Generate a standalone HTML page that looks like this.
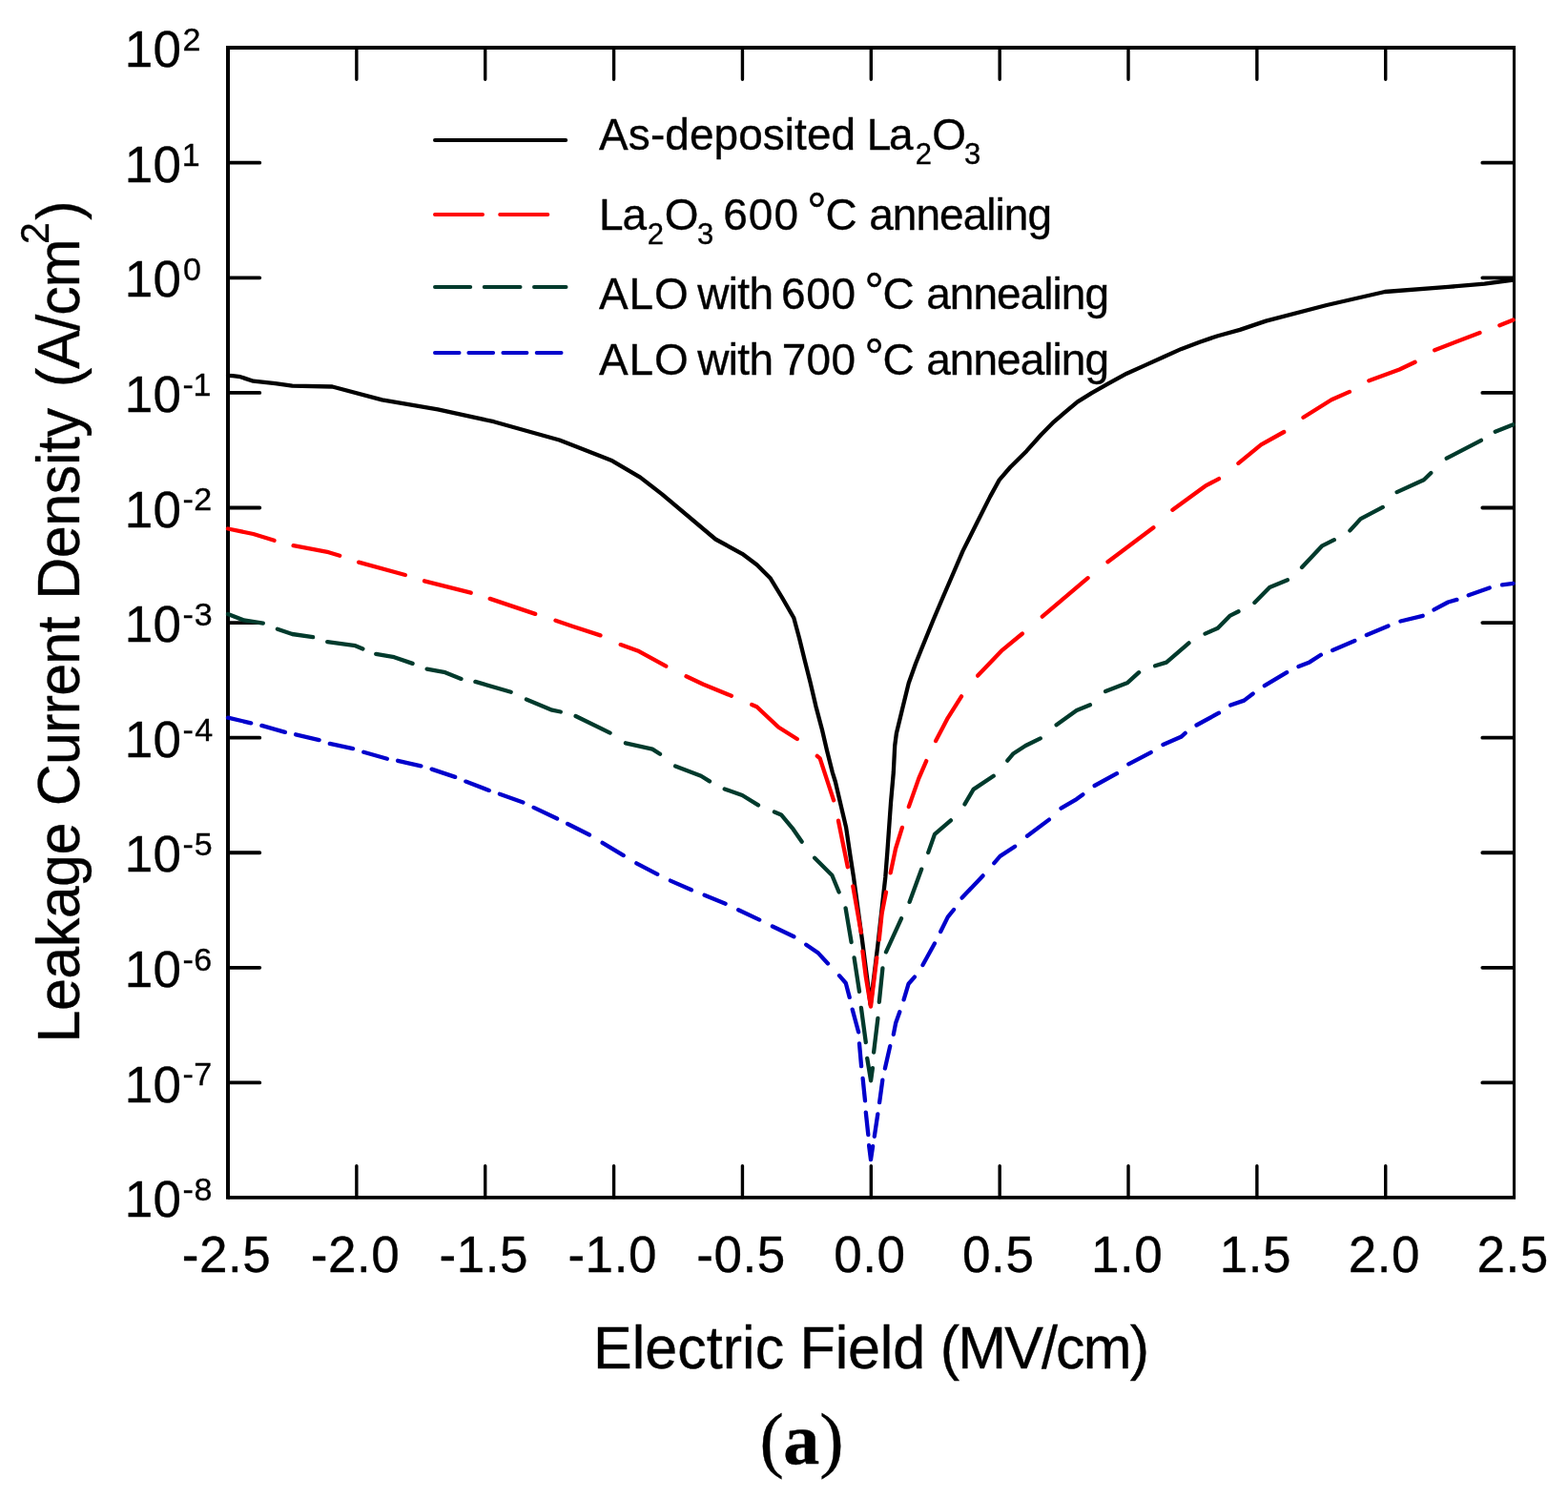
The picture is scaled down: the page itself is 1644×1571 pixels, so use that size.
<!DOCTYPE html>
<html lang="en"><head><meta charset="utf-8"><title>Leakage current density vs electric field</title>
<style>html,body{margin:0;padding:0;background:#fff}body{width:1644px;height:1571px;overflow:hidden}svg{display:block}text{font-family:"Liberation Sans",Arial,Helvetica,sans-serif;fill:#000;stroke:#000;stroke-width:0.35;font-kerning:none;white-space:pre}.ser{font-family:"Liberation Serif","Times New Roman",serif}</style></head><body>
<svg width="1644" height="1571" viewBox="0 0 1644 1571">
<rect width="1644" height="1571" fill="#fff"/>
<g stroke="#000" stroke-linecap="round" fill="none">
<path stroke-width="3.8" d="M239 170.7 H272.3 M1586.5 170.7 H1554.3 M239 291.29 H272.3 M1586.5 291.29 H1554.3 M239 411.88 H272.3 M1586.5 411.88 H1554.3 M239 532.48 H272.3 M1586.5 532.48 H1554.3 M239 653.08 H272.3 M1586.5 653.08 H1554.3 M239 773.67 H272.3 M1586.5 773.67 H1554.3 M239 894.26 H272.3 M1586.5 894.26 H1554.3 M239 1014.86 H272.3 M1586.5 1014.86 H1554.3 M239 1135.46 H272.3 M1586.5 1135.46 H1554.3"/>
<path stroke-width="3.4" d="M373.86 49.95 V83.25 M373.86 1255.9 V1222.6 M508.72 49.95 V83.25 M508.72 1255.9 V1222.6 M643.58 49.95 V83.25 M643.58 1255.9 V1222.6 M778.44 49.95 V83.25 M778.44 1255.9 V1222.6 M913.3 49.95 V83.25 M913.3 1255.9 V1222.6 M1048.16 49.95 V83.25 M1048.16 1255.9 V1222.6 M1183.02 49.95 V83.25 M1183.02 1255.9 V1222.6 M1317.88 49.95 V83.25 M1317.88 1255.9 V1222.6 M1452.74 49.95 V83.25 M1452.74 1255.9 V1222.6"/>
</g>
<path fill="none" stroke="#000" stroke-width="4.0" stroke-linejoin="miter" d="M239 1257.85 V49.95 H1589.05"/>
<path fill="none" stroke="#000" stroke-width="3.9" d="M239 1255.9 H1589.05"/>
<path fill="none" stroke="#000" stroke-width="3.1" d="M1587.5 49.95 V1255.9"/>
<g fill="none" stroke-width="4.3" stroke-linejoin="round" stroke-linecap="round">
<path stroke="#000000" d="M239 393.8 L244 394.2 L252 395.2 L265.6 399.7 L288.6 402.2 L306.4 404.7 L348.4 405.5 L400.6 419.3 L459 429.4 L517.7 442.2 L586.5 461.5 L600 466.7 L630 478.6 L642 483.3 L671.3 500.6 L694.2 518.4 L750.2 565.5 L778.2 580.8 L793.5 592.2 L807.5 606.2 L819.9 626.5 L832.3 648 L838.1 669.5 L843.8 692.7 L849.6 715.8 L855.4 740.6 L862 765.5 L867 787 L872.8 810.1 L875.9 820 L881.5 843.9 L887.1 867.7 L891.8 899.6 L895 920 L904.1 986.9 L912.7 1053.7 L920.3 991.6 L928.3 920 L930.4 892.8 L934 841.9 L936.8 810 L938.2 782 L939.9 769 L945.6 745.6 L952.7 716.5 L960 696 L965.8 681.5 L978.6 650 L987.5 629 L1000 600 L1009.5 577.9 L1024.8 547.3 L1038.2 520.6 L1047.7 503.4 L1059.2 490 L1076.4 472.9 L1091.7 455.7 L1105 442.3 L1118.4 430.9 L1129.8 421.3 L1145.1 411.8 L1162.3 402.2 L1181.4 391.7 L1200.5 383.1 L1219.6 374.5 L1238.7 365.9 L1257.8 358.7 L1276.9 352.2 L1300 345.9 L1327.3 336.6 L1391 320 L1452 306 L1518.3 300.9 L1556.5 297.6 L1586.6 293.5"/>
<path stroke="#ff0000" d="M239 554.5 L265.6 560 L287.5 566.8 M307.6 572.2 L344.6 579.2 L356.2 582.7 M376.1 589.6 L424.9 603 M445 609.3 L493.7 621.7 M513.7 627.9 L561.2 643.9 M582.5 650.8 L600 656.7 L629.5 666.4 M650.7 676.1 L670 683.1 L698.3 698.6 M719.5 709.3 L737.5 717.8 L766.9 729.8 M788.2 739 L793.5 741.2 L816.4 762.8 L835.8 775 M856.8 792.9 L859.7 795.3 L874.1 839.3 M879 860.7 L888.8 909.2 M894.3 929.4 L902.8 978 M904.4 997.6 L907.9 1025 L913 1055.6 L919.3 1004.3 M921.7 985.7 L924.6 958.2 L929 935.5 M933.7 915.4 L939 890.2 L945.9 867.9 M952.8 846.1 L963.3 816.4 L971.2 798.1 M981.1 777.1 L993.8 752.8 L1008 730.3 M1025.2 708.6 L1049.9 682.7 L1071.9 664.5 M1092.8 646.6 L1140.6 606.2 M1161.5 589.2 L1209.4 553.3 M1229.4 534.8 L1263.7 509.7 L1278 502.1 M1298.4 485.8 L1322.2 466.4 L1346.2 453 M1366.5 437.8 L1396 419.3 L1414.9 410.9 M1435.3 399.3 L1467.3 387.5 L1483.6 379.8 M1504.1 367.2 L1551.5 348.9 M1572.3 341.3 L1586.6 335.5"/>
<path stroke="#003a2c" d="M239 644 L255.5 650.4 L275.8 653.6 M290.9 659.8 L306.4 665 L328.1 668.1 M343.2 673.1 L372.6 677.2 L380.4 680.5 M394.2 685.8 L413.3 689.2 L432.6 695.9 M447.6 701.6 L466.8 705.2 L483.5 711.9 M498.4 714.9 L535.7 725.7 M551.9 733.6 L578.8 744.7 L587.8 746.5 M603.6 751 L639.6 768.6 M655.9 779.3 L684 785.6 L692 790.8 M708.1 803.4 L735 813.7 L744 819.4 M759.7 827.5 L778.2 834 L795 844.4 M811.9 851.5 L819 854.4 L831.7 869.7 L840.7 882.7 M854.1 899.8 L872.4 918 L879.6 935.5 M886.6 952.3 L892.6 988.1 M895.6 1004.5 L901 1039.8 M902.9 1056.8 L907.8 1093.1 M909.2 1109.8 L913.1 1133.3 L914.9 1120.2 M916.1 1103.6 L920.4 1067.9 M921.8 1050.8 L925.4 1015.5 M929 998.4 L945 963.3 M953.6 945.9 L966.2 911.6 M973.2 894.1 L980 874.9 L996.9 860.4 M1011.5 843.4 L1020.6 827.9 L1041.7 813.8 M1056.3 797.7 L1062.6 790.2 L1075.3 782 L1090.8 774.4 M1107.6 760.2 L1128.8 745.1 L1142.9 739.3 M1159.1 725.1 L1182.3 715.9 L1194.1 705.2 M1211.1 698.3 L1223 694.6 L1246.5 674.4 M1263.5 664.6 L1276.8 658.8 L1289.8 645.6 L1298.5 641.3 M1315.4 631.9 L1331.1 616 L1349.9 608.3 M1365 595 L1385.9 572.7 L1398.8 566.2 M1415.4 556.4 L1426.6 544.1 L1449.8 531.9 M1464.6 516.1 L1492.8 503.3 L1500.3 496 M1516.7 480.7 L1552.9 461.8 M1567.7 452.8 L1586.6 445.3"/>
<path stroke="#0000cc" d="M239 752.7 L263.2 758.3 M274.4 760.9 L298.9 767.9 M310.1 770.3 L334.6 776.1 M345.8 779.9 L370.1 785.1 M381.3 788.7 L405.9 795.7 M417.1 797.8 L441.4 803.3 M452.6 806.6 L477.2 814.9 M488.3 819.6 L512.8 828.9 M523.9 832.8 L548.4 841.6 M559.6 846.9 L584.1 858.5 M595.1 864 L618 875.5 M631.6 883.8 L653.7 897.1 M667.3 905.3 L689.3 916.8 M702.9 923.6 L724.9 933.3 M738.6 938.8 L760.6 947.7 M774.2 954.2 L796.2 964.6 M809.9 971.5 L832.4 982.3 M845.2 990.7 L858 999.6 L868 1010.5 M880 1023.2 L886.8 1031 L890.7 1045.9 M893.7 1058.6 L900.1 1082.3 M901 1094.4 L903.1 1118.2 M904.6 1130.9 L907 1154.4 M907.8 1166.6 L910.3 1190 M911.1 1201.2 L913 1216.2 L915.1 1202.2 M916.8 1191.8 L920.3 1168.4 M922.1 1156.2 L925.3 1132.7 M927.9 1120.5 L933.2 1097.1 M936.8 1084.8 L939.2 1072.7 L943.3 1061.3 M947.6 1048.4 L952.6 1031.7 L958.9 1024.6 M967.5 1012 L979.9 989.5 M986.2 977 L993.8 961.6 L1000 954 M1008.6 941.6 L1030.5 918.4 M1042.3 905.1 L1048.6 897.9 L1064.1 887.7 M1077 876.8 L1099.9 859.6 M1112.5 847.7 L1128.8 838.1 L1135.4 833.2 M1147.6 824 L1171 811.2 M1183.3 801.3 L1206.7 789.1 M1219.4 781 L1238.2 772.8 L1242.7 768.9 M1254.5 760.5 L1278 747.7 M1290.2 739.5 L1304.4 734.6 L1313.7 727.5 M1325.8 719.2 L1349.2 705.2 M1361.5 699.1 L1373.1 694.4 L1384.9 686.8 M1397.1 681.9 L1420.4 672 M1432.8 666 L1455.5 656.6 M1468.4 651.5 L1491.7 645.8 M1503.5 639.4 L1518.3 631.5 L1527.4 628.9 M1539.7 624.3 L1561.7 616.4 M1575 613.4 L1586.6 611.8"/>
</g>
<g fill="none" stroke-width="4" stroke-linecap="round">
<path stroke="#000000" d="M456 146.9 H593.2"/>
<path stroke="#ff0000" d="M456 225.1 H506 M524.2 225.1 H574.3"/>
<path stroke="#003a2c" d="M456 300.9 H493.2 M507.7 300.9 H545.5 M560 300.9 H593.5"/>
<path stroke="#0000cc" d="M456 370 H481.5 M491.4 370 H517.1 M527.4 370 H552.4 M562.7 370 H588.5"/>
</g>
<g font-size="53">
<text transform="translate(0 70.25)" font-size="53"><tspan x="130.86" y="0" letter-spacing="0.255">10</tspan><tspan x="191.59" y="-17.3" font-size="34">2</tspan></text>
<text transform="translate(0 190.85)" font-size="53"><tspan x="130.86" y="0" letter-spacing="0.255">10</tspan><tspan x="190.71" y="-17.3" font-size="34">1</tspan></text>
<text transform="translate(0 311.44)" font-size="53"><tspan x="130.86" y="0" letter-spacing="0.255">10</tspan><tspan x="191.97" y="-17.3" font-size="34">0</tspan></text>
<text transform="translate(0 432.03)" font-size="53"><tspan x="130.86" y="0" letter-spacing="0.255">10</tspan><tspan x="191.39" y="-17.3" font-size="34">-</tspan><tspan x="202.41" y="-17.3" font-size="34">1</tspan></text>
<text transform="translate(0 552.63)" font-size="53"><tspan x="130.86" y="0" letter-spacing="0.255">10</tspan><tspan x="191.39" y="-17.3" font-size="34">-</tspan><tspan x="203.29" y="-17.3" font-size="34">2</tspan></text>
<text transform="translate(0 673.23)" font-size="53"><tspan x="130.86" y="0" letter-spacing="0.255">10</tspan><tspan x="191.39" y="-17.3" font-size="34">-</tspan><tspan x="203.71" y="-17.3" font-size="34">3</tspan></text>
<text transform="translate(0 793.82)" font-size="53"><tspan x="130.86" y="0" letter-spacing="0.255">10</tspan><tspan x="191.39" y="-17.3" font-size="34">-</tspan><tspan x="204.22" y="-17.3" font-size="34">4</tspan></text>
<text transform="translate(0 914.41)" font-size="53"><tspan x="130.86" y="0" letter-spacing="0.255">10</tspan><tspan x="191.39" y="-17.3" font-size="34">-</tspan><tspan x="203.64" y="-17.3" font-size="34">5</tspan></text>
<text transform="translate(0 1035.01)" font-size="53"><tspan x="130.86" y="0" letter-spacing="0.255">10</tspan><tspan x="191.39" y="-17.3" font-size="34">-</tspan><tspan x="203.27" y="-17.3" font-size="34">6</tspan></text>
<text transform="translate(0 1155.61)" font-size="53"><tspan x="130.86" y="0" letter-spacing="0.255">10</tspan><tspan x="191.39" y="-17.3" font-size="34">-</tspan><tspan x="203.26" y="-17.3" font-size="34">7</tspan></text>
<text transform="translate(0 1276.2)" font-size="53"><tspan x="130.86" y="0" letter-spacing="0.255">10</tspan><tspan x="191.39" y="-17.3" font-size="34">-</tspan><tspan x="203.52" y="-17.3" font-size="34">8</tspan></text>
</g>
<g font-size="53" text-anchor="middle" letter-spacing="0.55">
<text x="237.6" y="1334.4">-2.5</text>
<text x="372.46" y="1334.4">-2.0</text>
<text x="507.32" y="1334.4">-1.5</text>
<text x="642.18" y="1334.4">-1.0</text>
<text x="777.04" y="1334.4">-0.5</text>
<text x="911.9" y="1334.4">0.0</text>
<text x="1046.76" y="1334.4">0.5</text>
<text x="1181.62" y="1334.4">1.0</text>
<text x="1316.48" y="1334.4">1.5</text>
<text x="1451.34" y="1334.4">2.0</text>
<text x="1586.2" y="1334.4">2.5</text>
</g>
<text transform="translate(0 1434.6) scale(1 1.02)" font-size="61"><tspan x="622.1" y="0" letter-spacing="0.019">Electric </tspan><tspan x="838.6" y="0" letter-spacing="-0.17">Field </tspan><tspan x="985.72" y="0" letter-spacing="-1.837">(MV/cm)</tspan></text>
<text transform="translate(82.9 0) rotate(-90) scale(1 1.02)" font-size="61"><tspan x="-1093.5" y="0" letter-spacing="-0.523">Leakage </tspan><tspan x="-845.2" y="0" letter-spacing="-0.793">Current </tspan><tspan x="-628.8" y="0" letter-spacing="-0.413">Density </tspan><tspan x="-406.08" y="0" letter-spacing="-0.889">(A/cm</tspan><tspan x="-256.06" y="-31.76" font-size="41">2</tspan><tspan x="-230.86" y="0">)</tspan></text>
<text transform="translate(0 1534.9)" class="ser" font-size="76" stroke-width="0"><tspan x="796.56" y="0">(</tspan><tspan x="821.35" y="0" font-weight="bold">a</tspan><tspan x="859.35" y="0">)</tspan></text>
<text transform="translate(0 157) scale(1 1.015)" font-size="46"><tspan x="628.11" y="0" letter-spacing="0.06">As-deposited </tspan><tspan x="908.73" y="0" letter-spacing="-2.293">La</tspan><tspan x="959.64" y="14.38" font-size="31">2</tspan><tspan x="977.32" y="0">O</tspan><tspan x="1011.12" y="14.38" font-size="31">3</tspan></text>
<text transform="translate(0 241.1) scale(1 1.015)" font-size="46"><tspan x="628.13" y="0" letter-spacing="-1.293">La</tspan><tspan x="678.64" y="14.38" font-size="31">2</tspan><tspan x="696.82" y="0">O</tspan><tspan x="731.02" y="14.38" font-size="31">3 </tspan><tspan x="758.16" y="0" letter-spacing="1.092">600 </tspan><tspan x="846.1" y="-0.69" font-size="52">°</tspan><tspan x="865.46" y="0">C </tspan><tspan x="911.15" y="0" letter-spacing="-0.95">annealing</tspan></text>
<text transform="translate(0 323.8) scale(1 1.015)" font-size="46"><tspan x="628.11" y="0" letter-spacing="0.773">ALO </tspan><tspan x="731.37" y="0" letter-spacing="-0.728">with </tspan><tspan x="818.96" y="0" letter-spacing="0.642">600 </tspan><tspan x="906.2" y="0.59" font-size="52">°</tspan><tspan x="925.46" y="0">C </tspan><tspan x="971.15" y="0" letter-spacing="-0.95">annealing</tspan></text>
<text transform="translate(0 392.8) scale(1 1.015)" font-size="46"><tspan x="628.11" y="0" letter-spacing="0.773">ALO </tspan><tspan x="731.37" y="0" letter-spacing="-0.728">with </tspan><tspan x="819.84" y="0" letter-spacing="0.203">700 </tspan><tspan x="906.2" y="0" font-size="52">°</tspan><tspan x="925.46" y="0">C </tspan><tspan x="971.15" y="0" letter-spacing="-0.95">annealing</tspan></text>
</svg></body></html>
